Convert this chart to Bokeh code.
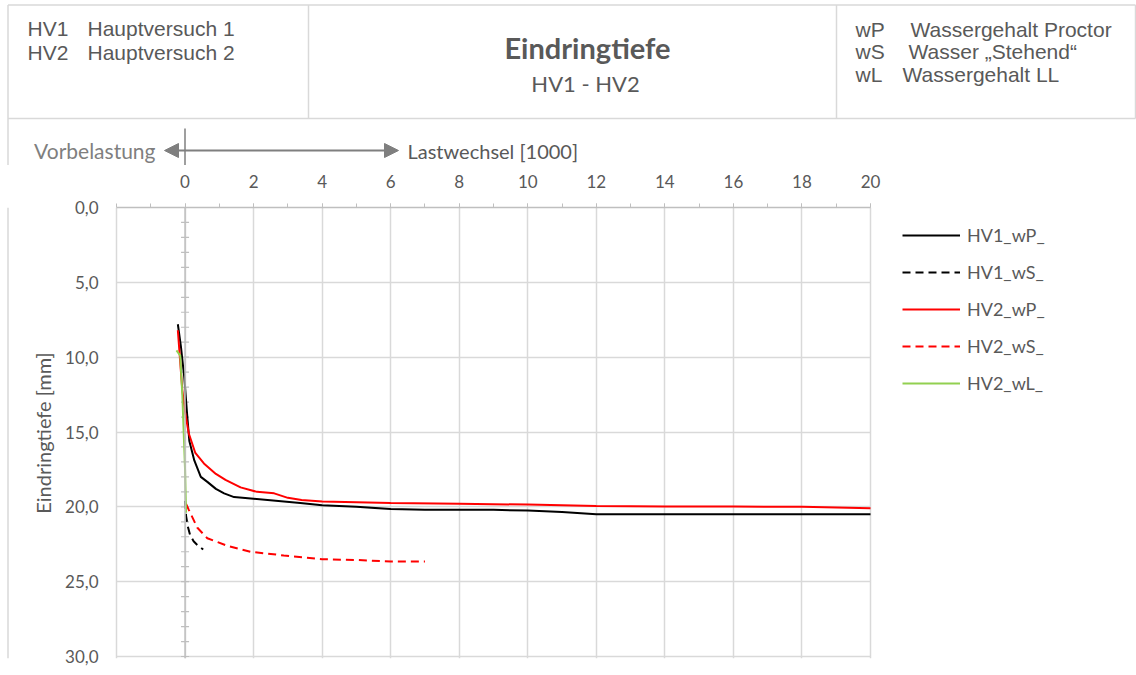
from bokeh.plotting import figure
from bokeh.models import (Range1d, FixedTicker, Span, Legend, LegendItem,
                          Arrow, NormalHead)
from bokeh.layouts import column, row
from bokeh.core.properties import value
from bokeh.embed import file_html
from bokeh.resources import INLINE

# ---------------- data ----------------
hv1_wp_x = [-0.21, -0.12, -0.02, 0.06, 0.125, 0.27, 0.46, 0.66, 0.9, 1.14, 1.43,
            2.0, 3.36, 4.0, 5.0, 6.0, 7.0, 8.0, 9.0, 10.0, 11.0, 12.0, 14.0, 16.0, 18.0, 20.0]
hv1_wp_y = [7.8, 9.3, 11.4, 13.8, 15.6, 16.9, 18.0, 18.35, 18.8, 19.1, 19.35,
            19.46, 19.75, 19.9, 20.0, 20.15, 20.2, 20.2, 20.2, 20.25, 20.35, 20.5, 20.5, 20.5, 20.5, 20.5]

hv1_ws_x = [0.0, 0.03, 0.08, 0.15, 0.25, 0.38, 0.53]
hv1_ws_y = [19.6, 20.6, 21.3, 21.9, 22.3, 22.6, 22.85]

hv2_wp_x = [-0.21, -0.08, 0.01, 0.11, 0.3, 0.55, 0.9, 1.18, 1.62, 2.1, 2.6, 3.0, 3.4,
            4.0, 5.0, 6.0, 8.0, 10.0, 12.0, 14.0, 16.0, 18.0, 20.0]
hv2_wp_y = [8.2, 12.2, 13.8, 15.1, 16.4, 17.1, 17.8, 18.2, 18.7, 19.0, 19.1, 19.4, 19.55,
            19.65, 19.7, 19.75, 19.8, 19.85, 19.95, 19.97, 19.98, 20.0, 20.1]

hv2_ws_x = [0.03, 0.11, 0.36, 0.65, 1.23, 1.91, 2.88, 4.0, 5.0, 6.0, 7.0]
hv2_ws_y = [19.8, 20.2, 21.4, 22.1, 22.6, 23.0, 23.25, 23.5, 23.55, 23.65, 23.65]

hv2_wl_x = [-0.25, -0.14, -0.08, 0.0, 0.03]
hv2_wl_y = [9.55, 9.9, 12.5, 17.5, 20.4]

series_names = ["HV1_wP_", "HV1_wS_", "HV2_wP_", "HV2_wS_", "HV2_wL_"]

x_min, x_max = -2, 20
y_min, y_max = 0, 30
x_major = [0, 2, 4, 6, 8, 10, 12, 14, 16, 18, 20]
x_grid = [-2] + x_major
x_minor = list(range(-2, 21))
y_major = [0, 5, 10, 15, 20, 25, 30]
y_minor = list(range(0, 31))

left_legend = [("HV1", "Hauptversuch 1"), ("HV2", "Hauptversuch 2")]
right_legend = [("wP", "Wassergehalt Proctor"), ("wS", "Wasser \u201eStehend\u201c"),
                ("wL", "Wassergehalt LL")]
title_text = "Eindringtiefe"
subtitle_text = "HV1 - HV2"

# ---------------- styling ----------------
GRID = "#d9d9d9"
AXIS = "#bfbfbf"
TXT = "#595959"
ARR = "#7f7f7f"
FONT = "Lato"

W = 1136
HH = 165          # header figure height
CH = 675 - HH     # chart figure height
SW = 9            # left border strip width
PLOT_L, PLOT_R = 116, 870   # pixel extent of x = -2 .. 20
PLOT_T, PLOT_B = 207, 656   # pixel extent of y = 0 .. 30
PAD = 2                     # extra frame pixels so edge grid lines are not clipped

# ---------------- header figure ----------------
hdr = figure(width=W, height=HH, x_range=Range1d(0, W), y_range=Range1d(HH, 0),
             output_backend="svg", toolbar_location=None, min_border=0,
             x_axis_location=None, y_axis_location=None, outline_line_color=None)
hdr.xgrid.visible = False
hdr.ygrid.visible = False

hdr.segment(x0=[7.5, 7.5, 7.5, 1135, 308, 836],
            y0=[4.5, 118, 4.5, 4.5, 4.5, 4.5],
            x1=[1135, 1135, 7.5, 1135, 308, 836],
            y1=[4.5, 118, HH, 118, 118, 118],
            line_color=GRID, line_width=1.5)

hfont = value("Liberation Sans")
hdr.text(x=[27, 27], y=[28, 52], text=[a for a, b in left_legend],
         text_font=hfont, text_font_size="21px", text_color=TXT, text_baseline="middle")
hdr.text(x=[87, 87], y=[28, 52], text=[b for a, b in left_legend],
         text_font=hfont, text_font_size="21px", text_color=TXT, text_baseline="middle")
hdr.text(x=[855, 855, 855], y=[29, 51, 74], text=[a for a, b in right_legend],
         text_font=hfont, text_font_size="21px", text_color=TXT, text_baseline="middle")
hdr.text(x=[910, 908, 902], y=[29, 51, 74], text=[b for a, b in right_legend],
         text_font=hfont, text_font_size="21px", text_color=TXT, text_baseline="middle")

hdr.text(x=[587], y=[47], text=[title_text], text_font=value(FONT), text_font_size="29px",
         text_font_style="bold", text_color=TXT, text_align="center", text_baseline="middle")
hdr.text(x=[585], y=[83], text=[subtitle_text], text_font=value(FONT), text_font_size="22px",
         text_color=TXT, text_align="center", text_baseline="middle")

# arrow row
hdr.add_layout(Arrow(start=NormalHead(size=14, fill_color=ARR, line_color=ARR),
                     end=NormalHead(size=14, fill_color=ARR, line_color=ARR),
                     x_start=164, y_start=150, x_end=398, y_end=150,
                     line_color=ARR, line_width=2))
hdr.segment(x0=[184.5], y0=[128], x1=[184.5], y1=[HH], line_color=ARR, line_width=1.5)
hdr.text(x=[155], y=[150], text=["Vorbelastung"], text_font=value(FONT), text_font_size="21px",
         text_color=ARR, text_align="right", text_baseline="middle")
hdr.text(x=[407], y=[150], text=["Lastwechsel [1000]"], text_font=value(FONT),
         text_font_size="20px", text_color=TXT, text_align="left", text_baseline="middle")

# ---------------- left border strip ----------------
strip = figure(width=SW, height=CH, x_range=Range1d(0, SW), y_range=Range1d(0, CH),
               output_backend="svg", toolbar_location=None, min_border=0,
               x_axis_location=None, y_axis_location=None, outline_line_color=None)
strip.xgrid.visible = False
strip.ygrid.visible = False
strip.segment(x0=[7.5], y0=[0], x1=[7.5], y1=[CH], line_color=GRID, line_width=1.5)

# ---------------- chart figure ----------------
# the frame extends to the right edge so that the legend can sit in it;
# axis and grids are bounded to the real data extent (-2 .. 20)
PW = W - SW
ux = (x_max - x_min) / (PLOT_R - PLOT_L)     # data units per pixel
uy = (y_max - y_min) / (PLOT_B - PLOT_T)
x_start = x_min - PAD * ux
x_end = x_min + (W - PLOT_L) * ux
y_end = y_max + PAD * uy
p = figure(width=PW, height=CH, x_range=Range1d(x_start, x_end), y_range=Range1d(y_end, y_min),
           x_axis_location="above", output_backend="svg", toolbar_location=None,
           min_border_left=PLOT_L - PAD - SW, min_border_right=0,
           min_border_top=PLOT_T - HH, min_border_bottom=675 - PLOT_B - PAD,
           outline_line_color=None,
           background_fill_color="white", border_fill_color="white")

xa = p.xaxis[0]
xa.bounds = (x_min, x_max)
xa.ticker = FixedTicker(ticks=x_major, minor_ticks=x_minor)
xa.axis_line_color = AXIS
xa.axis_line_width = 1.5
xa.major_tick_line_color = AXIS
xa.minor_tick_line_color = AXIS
xa.major_tick_in = 0
xa.major_tick_out = 4
xa.minor_tick_in = 0
xa.minor_tick_out = 4
xa.major_label_standoff = 16
xa.major_label_text_font = FONT
xa.major_label_text_font_size = "17px"
xa.major_label_text_color = TXT

ya = p.yaxis[0]
ya.ticker = FixedTicker(ticks=y_major, minor_ticks=[])
ya.major_label_overrides = {v: f"{v:.1f}".replace(".", ",") for v in y_major}
ya.axis_line_color = None
ya.major_tick_line_color = None
ya.minor_tick_line_color = None
ya.major_tick_in = 0
ya.major_tick_out = 0
ya.major_label_standoff = 18 - PAD
ya.major_label_text_font = FONT
ya.major_label_text_font_size = "17px"
ya.major_label_text_color = TXT
ya.axis_label = "Eindringtiefe [mm]"
ya.axis_label_text_font = FONT
ya.axis_label_text_font_size = "20px"
ya.axis_label_text_font_style = "normal"
ya.axis_label_text_color = TXT
ya.axis_label_standoff = 7

p.xgrid.ticker = FixedTicker(ticks=x_grid)
p.xgrid.grid_line_color = GRID
p.xgrid.grid_line_width = 1.5
p.xgrid.bounds = (x_min, x_max)
try:
    p.ygrid.cross_bounds = (x_min, x_max)
    p.ygrid.ticker = FixedTicker(ticks=y_major)
    p.ygrid.grid_line_color = GRID
    p.ygrid.grid_line_width = 1.5
except AttributeError:
    p.ygrid.visible = False
    p.segment(x0=[x_min] * len(y_major), y0=y_major, x1=[x_max] * len(y_major), y1=y_major,
              line_color=GRID, line_width=1.5)

# vertical axis line at x = 0 with its small ticks
p.add_layout(Span(location=0, dimension="height", line_color=AXIS, line_width=1.5))
p.scatter(x=[0] * len(y_minor), y=y_minor, marker="dash", size=8,
          line_color=AXIS, line_width=1.2)

r1 = p.line(hv1_wp_x, hv1_wp_y, line_color="black", line_width=2)
r2 = p.line(hv1_ws_x, hv1_ws_y, line_color="black", line_width=2, line_dash="8 5")
r3 = p.line(hv2_wp_x, hv2_wp_y, line_color="#ff0000", line_width=2)
r4 = p.line(hv2_ws_x, hv2_ws_y, line_color="#ff0000", line_width=2, line_dash="8 5")
r5 = p.line(hv2_wl_x, hv2_wl_y, line_color="#92d050", line_width=2)

legend = Legend(items=[LegendItem(label=n, renderers=[r])
                       for n, r in zip(series_names, [r1, r2, r3, r4, r5])],
                location=(902 - PLOT_L + PAD, PLOT_B + PAD - 394), orientation="vertical",
                padding=0, margin=0,
                spacing=15, glyph_width=58, glyph_height=20, label_height=20,
                label_standoff=7, label_text_font=FONT, label_text_font_size="18px",
                label_text_color=TXT, border_line_color=None, background_fill_alpha=0)
p.add_layout(legend)

layout = column(hdr, row(strip, p))
open("out.html", "w", encoding="utf-8").write(file_html(layout, INLINE, "Eindringtiefe"))
